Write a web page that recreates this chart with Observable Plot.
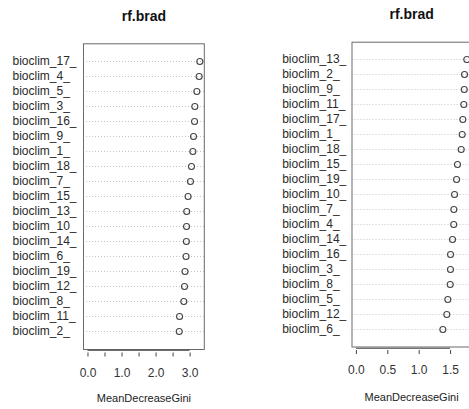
<!DOCTYPE html>
<html><head><meta charset="utf-8">
<script src="https://cdn.jsdelivr.net/npm/d3@7"></script>
<script src="https://cdn.jsdelivr.net/npm/@observablehq/plot@0.6"></script>
<style>
html,body{margin:0;padding:0;background:#fff;}
#wrap{position:relative;width:469px;height:409px;overflow:hidden;background:#fff;}
#wrap > div{position:absolute;top:0;}
#wrap svg{max-width:none !important;}
</style></head><body>
<div id="wrap"><div id="left" style="left:0;width:234px"></div><div id="right" style="left:234px;width:260px"></div></div>
<script>
const title = "rf.brad";
const xLabel = "MeanDecreaseGini";

const leftVars = ["bioclim_17_","bioclim_4_","bioclim_5_","bioclim_3_","bioclim_16_","bioclim_9_","bioclim_1_","bioclim_18_","bioclim_7_","bioclim_15_","bioclim_13_","bioclim_10_","bioclim_14_","bioclim_6_","bioclim_19_","bioclim_12_","bioclim_8_","bioclim_11_","bioclim_2_"];
const leftGini = [3.285,3.265,3.197,3.138,3.13,3.10,3.08,3.04,3.01,2.94,2.90,2.895,2.89,2.88,2.85,2.835,2.815,2.69,2.68];
const leftTicks = [0,0.5,1,1.5,2,2.5,3];
const leftTickLabels = ["0.0","","1.0","","2.0","","3.0"];

const rightVars = ["bioclim_13_","bioclim_2_","bioclim_9_","bioclim_11_","bioclim_17_","bioclim_1_","bioclim_18_","bioclim_15_","bioclim_19_","bioclim_10_","bioclim_7_","bioclim_4_","bioclim_14_","bioclim_16_","bioclim_3_","bioclim_8_","bioclim_5_","bioclim_12_","bioclim_6_"];
const rightGini = [1.758,1.722,1.718,1.711,1.695,1.685,1.669,1.61,1.595,1.563,1.552,1.55,1.531,1.499,1.498,1.494,1.456,1.44,1.377];
const rightTicks = [0,0.5,1,1.5];
const rightTickLabels = ["0.0","0.5","1.0","1.5"];

function panel({vars, values, ticks, tickLabels, width, marginLeft, marginRight, marginTop, marginBottom, labelX, titleDy, xLabelDy}) {
  const data = vars.map((v, i) => ({v, g: values[i]}));
  const maxV = d3.max(values);
  const pad = maxV * 0.04;
  const n = vars.length;
  const step = (409 - marginTop - marginBottom) / (n + 1);
  return Plot.plot({
    width, height: 409, marginLeft, marginRight, marginTop, marginBottom,
    style: {fontFamily: "'Liberation Sans', Arial, sans-serif", background: "transparent", overflow: "visible", maxWidth: "none"},
    x: {domain: [-pad, maxV + pad]},
    y: {domain: vars, type: "point", padding: 1},
    marks: [
      Plot.ruleY(data, {y: "v", stroke: "#c4c4c4", strokeDasharray: "1,2"}),
      Plot.frame({stroke: "#6a6a6a"}),
      Plot.dot(data, {x: "g", y: "v", r: 3, stroke: "#444", strokeWidth: 1.1}),
      Plot.axisY({tickSize: 0, tickPadding: marginLeft - labelX, textAnchor: "start", fontSize: 12, fill: "#2a2a2a", label: null}),
      Plot.axisX({ticks, tickFormat: d => tickLabels[ticks.indexOf(d)], tickSize: 4, tickPadding: 11, dy: 3.5, fontSize: 12, fill: "#333", stroke: "#444", strokeOpacity: 1, label: null}),
      Plot.ruleY([vars[n - 1]], {x1: ticks[0], x2: ticks[ticks.length - 1], dy: step + 3.5, stroke: "#444"}),
      Plot.text([title], {text: d => d, frameAnchor: "top", dy: titleDy, fontSize: 14, fontWeight: "bold", fill: "#111"}),
      Plot.text([xLabel], {text: d => d, frameAnchor: "bottom", dy: xLabelDy, fontSize: 11, fill: "#222"})
    ]
  });
}

document.getElementById("left").append(panel({
  vars: leftVars, values: leftGini, ticks: leftTicks, tickLabels: leftTickLabels,
  width: 234, marginLeft: 83, marginRight: 30.2, marginTop: 43.3, marginBottom: 60, labelX: 12, titleDy: -33, xLabelDy: 52
}));
document.getElementById("right").append(panel({
  vars: rightVars, values: rightGini, ticks: rightTicks, tickLabels: rightTickLabels,
  width: 260, marginLeft: 117.5, marginRight: 23.3, marginTop: 41.7, marginBottom: 62.5, labelX: 47.7, titleDy: -33, xLabelDy: 54
}));
</script>
</body></html>
